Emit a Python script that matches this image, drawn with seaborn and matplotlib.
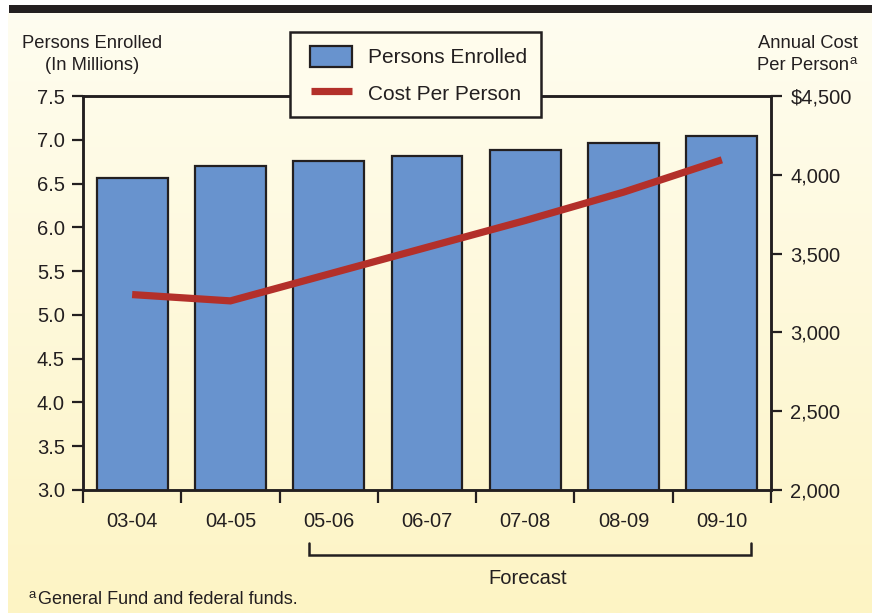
import numpy as np
import pandas as pd
import seaborn as sns
import matplotlib.pyplot as plt
from matplotlib.patches import Rectangle
from matplotlib.lines import Line2D
from matplotlib.legend_handler import HandlerPatch, HandlerLine2D

# Fiscal years shown on the category axis
years = ["03-04", "04-05", "05-06", "06-07", "07-08", "08-09", "09-10"]
# Persons enrolled, in millions (left axis)
enrolled = [6.56, 6.70, 6.76, 6.82, 6.88, 6.96, 7.04]
# Annual cost per person, in dollars (right axis)
cost_per_person = [3240, 3200, 3370, 3540, 3710, 3890, 4095]

left_ticks = [3.0, 3.5, 4.0, 4.5, 5.0, 5.5, 6.0, 6.5, 7.0, 7.5]
left_tick_labels = ["3.0", "3.5", "4.0", "4.5", "5.0", "5.5", "6.0", "6.5", "7.0", "7.5"]
right_ticks = [2000, 2500, 3000, 3500, 4000, 4500]
right_tick_labels = ["2,000", "2,500", "3,000", "3,500", "4,000", "$4,500"]

BAR_COLOR = "#6893CE"
LINE_COLOR = "#B3302A"
INK = "#231F20"
W, H = 872, 613

sns.set_theme(style="ticks")
plt.rcParams["font.family"] = ["Liberation Sans", "DejaVu Sans"]
plt.rcParams["text.color"] = INK

fig = plt.figure(figsize=(W / 100, H / 100), dpi=100)
fig.patch.set_facecolor("white")


def fx(px):
    return px / W


def fy(py):
    return 1 - py / H


# Cream-to-yellow panel behind the chart, with a black rule across the top
bg = fig.add_axes([0, 0, 1, 1], zorder=-10)
bg.axis("off")
top_rgb = np.array([255, 253, 240]) / 255
bot_rgb = np.array([253, 244, 196]) / 255
t = np.linspace(0, 1, 256)[:, None, None]
grad = top_rgb * (1 - t) + bot_rgb * t
bg.imshow(grad, aspect="auto", extent=[8, W, H, 13], interpolation="bilinear")
bg.add_patch(Rectangle((9, 5), W - 9, 8, facecolor="#231F20", edgecolor="none"))

# Forecast bracket under the projected years
bx0, bx1, by_top, by = 309, 751, 543, 555
bg.plot([bx0, bx0, bx1, bx1], [by_top, by, by, by_top], color=INK,
        linewidth=1.8, solid_joinstyle="miter")
bg.set_xlim(0, W)
bg.set_ylim(H, 0)

# Main axes
ax = fig.add_axes([fx(83), fy(490), fx(771 - 83), (490 - 96) / H], zorder=1)
ax.set_facecolor("none")

df = pd.DataFrame({"year": years, "enrolled": enrolled})
sns.barplot(data=df, x="year", y="enrolled", ax=ax, color=BAR_COLOR,
            saturation=1, width=0.72, edgecolor=INK, linewidth=1.6)

ax2 = ax.twinx()
sns.lineplot(x=np.arange(len(years)), y=cost_per_person, ax=ax2,
             color=LINE_COLOR, linewidth=5.2, legend=False)
for ln in ax2.get_lines():
    ln.set_solid_capstyle("butt")
    ln.set_solid_joinstyle("miter")

ax.set_xlim(-0.5, len(years) - 0.5)
ax.set_ylim(3.0, 7.5)
ax2.set_ylim(2000, 4500)

# Tick marks sit between categories; labels sit under each bar
ax.set_xticks(np.arange(-0.5, len(years), 1.0))
ax.set_xticks(np.arange(len(years)), minor=True)
ax.set_xticklabels([""] * (len(years) + 1))
ax.set_xticklabels(years, minor=True)
ax.tick_params(axis="x", which="major", length=9, width=1.6, color=INK,
               direction="out", labelbottom=False)
ax.tick_params(axis="x", which="minor", length=0, pad=16, labelsize=14.5,
               labelcolor=INK)

ax.set_yticks(left_ticks)
ax.set_yticklabels(left_tick_labels)
ax.tick_params(axis="y", length=8, width=1.6, color=INK, pad=5,
               labelsize=14.5, labelcolor=INK, direction="out")

ax2.set_yticks(right_ticks)
ax2.set_yticklabels(right_tick_labels)
ax2.tick_params(axis="y", length=8, width=1.6, color=INK, pad=6,
                labelsize=14.5, labelcolor=INK, direction="out")

ax.set_xlabel("")
ax.set_ylabel("")
ax2.set_xlabel("")
ax2.set_ylabel("")

for a in (ax, ax2):
    for sp in a.spines.values():
        sp.set_visible(True)
        sp.set_color(INK)
        sp.set_linewidth(1.8)

# Axis titles
fig.text(fx(92), fy(44), "Persons Enrolled", ha="center", va="center", fontsize=13.2)
fig.text(fx(92), fy(66), "(In Millions)", ha="center", va="center", fontsize=13.2)
fig.text(fx(858), fy(44), "Annual Cost", ha="right", va="center", fontsize=13.2)
fig.text(fx(849), fy(66), "Per Person", ha="right", va="center", fontsize=13.2)
fig.text(fx(849.5), fy(61), "a", ha="left", va="center", fontsize=9.5)

# Legend
handles = [
    Rectangle((0, 0), 1, 1, facecolor=BAR_COLOR, edgecolor=INK, linewidth=1.6),
    Line2D([], [], color=LINE_COLOR, linewidth=5.2, solid_capstyle="butt"),
]
leg = fig.legend(handles, ["Persons Enrolled", "Cost Per Person"],
                 loc="upper left", bbox_to_anchor=(fx(290), fy(32)),
                 borderaxespad=0, frameon=True, fancybox=False,
                 edgecolor=INK, facecolor="#FFFCEC", framealpha=1,
                 fontsize=15, handlelength=2.3, handleheight=1.2,
                 handletextpad=0.8, labelspacing=0.69, borderpad=0.66,
                 handler_map={Rectangle: HandlerPatch(xpad=0.3),
                              Line2D: HandlerLine2D(xpad=0.35)})
leg.get_frame().set_linewidth(1.8)
for txt in leg.get_texts():
    txt.set_color(INK)

fig.text(fx(528), fy(578), "Forecast", ha="center", va="center", fontsize=14.5)

# Footnote
fig.text(fx(28), fy(595), "a", ha="left", va="center", fontsize=9.5)
fig.text(fx(38), fy(600), "General Fund and federal funds.", ha="left",
         va="center", fontsize=13)

fig.savefig("out.png", dpi=100)
